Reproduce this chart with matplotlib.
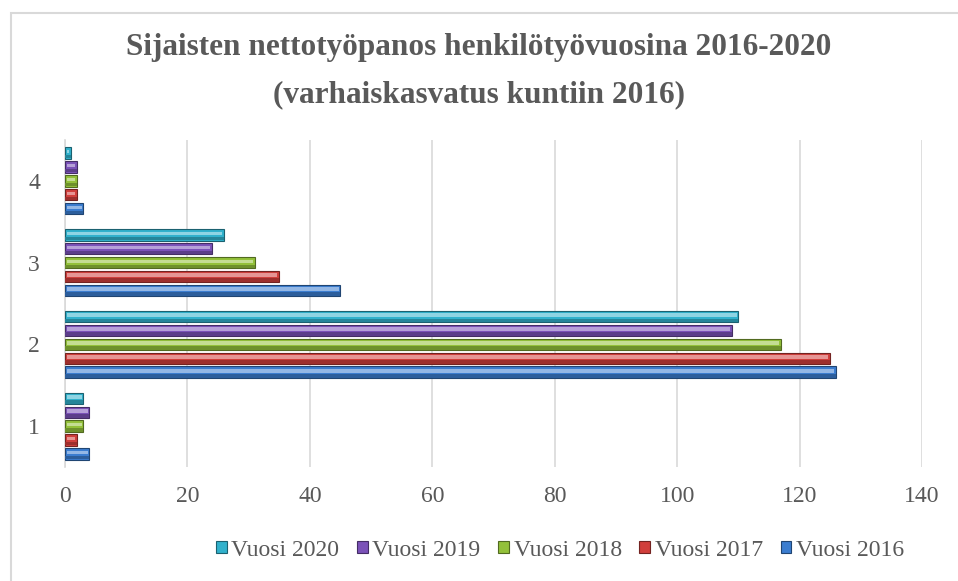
import numpy as np
import matplotlib.pyplot as plt
from matplotlib.patches import Rectangle
from matplotlib.colors import to_rgb

categories = ['1', '2', '3', '4']
years = ['Vuosi 2016', 'Vuosi 2017', 'Vuosi 2018', 'Vuosi 2019', 'Vuosi 2020']
v2016 = [4, 126, 45, 3]
v2017 = [2, 125, 35, 2]
v2018 = [3, 117, 31, 2]
v2019 = [4, 109, 24, 2]
v2020 = [3, 110, 26, 1]
series = [v2016, v2017, v2018, v2019, v2020]
colors = ['#3b7dd0', '#d13f3c', '#93c13a', '#7b52b8', '#31b1cc']


def shade(c, f):
    r, g, b = to_rgb(c)
    if f < 1:
        return (r * f, g * f, b * f)
    f = f - 1
    return (r + (1 - r) * f, g + (1 - g) * f, b + (1 - b) * f)


plt.rcParams['font.family'] = ['Liberation Serif', 'DejaVu Serif']

fig = plt.figure(figsize=(9.58, 5.81), dpi=100)
ax = fig.add_axes([65 / 958, 1 - 467 / 581, (922 - 65) / 958, (467 - 140) / 581])

# chart frame
fig.patches.append(Rectangle((11 / 958, -0.1), 1.2, 1 - 13 / 581 + 0.1,
                             transform=fig.transFigure, fill=False,
                             edgecolor='#d9d9d9', linewidth=1.5))

y = np.arange(len(categories))
step = 0.17
h = 0.14
for i, (vals, col, lab) in enumerate(zip(series, colors, years)):
    pos = y + (i - 2) * step
    ax.barh(pos, vals, height=h, color=col, edgecolor=shade(col, 0.55),
            linewidth=0.8, label=lab, zorder=3)
    # highlight strip for the bevelled look
    ax.barh(pos + h * 0.12, np.array(vals) - 0.6, left=0.3, height=h * 0.3,
            color=shade(col, 1.45), linewidth=0, zorder=4)
    ax.barh(pos - h * 0.32, np.array(vals), height=h * 0.3,
            color=shade(col, 0.75), linewidth=0, zorder=4)

ax.set_xlim(0, 140)
ax.set_ylim(-0.5, 3.5)
ax.set_xticks(np.arange(0, 141, 20))
ax.set_yticks(y)
ax.set_yticklabels(categories)
ax.grid(axis='x', color='#d9d9d9', linewidth=1.2, zorder=0)
for s in ['top', 'right', 'bottom']:
    ax.spines[s].set_visible(False)
ax.spines['left'].set_color('#d9d9d9')
ax.spines['left'].set_linewidth(1.2)
ax.tick_params(length=0, labelsize=17, labelcolor='#595959', pad=14)
ax.tick_params(axis='y', pad=18)

fig.text(0.5, 1 - 48 / 581, 'Sijaisten nettotyöpanos henkilötyövuosina 2016-2020',
         ha='center', va='center', fontsize=22.5, fontweight='bold', color='#595959')
fig.text(0.5, 1 - 95 / 581, '(varhaiskasvatus kuntiin 2016)',
         ha='center', va='center', fontsize=22.5, fontweight='bold', color='#595959')

handles, labels = ax.get_legend_handles_labels()
leg = fig.legend(handles[::-1], labels[::-1], loc='center',
                 bbox_to_anchor=(560 / 958, 1 - 550 / 581), ncol=5, frameon=False,
                 fontsize=17, handlelength=0.45, handleheight=0.45,
                 handletextpad=0.2, columnspacing=0.75)
for t in leg.get_texts():
    t.set_color('#595959')

fig.savefig('out.png', dpi=100)
